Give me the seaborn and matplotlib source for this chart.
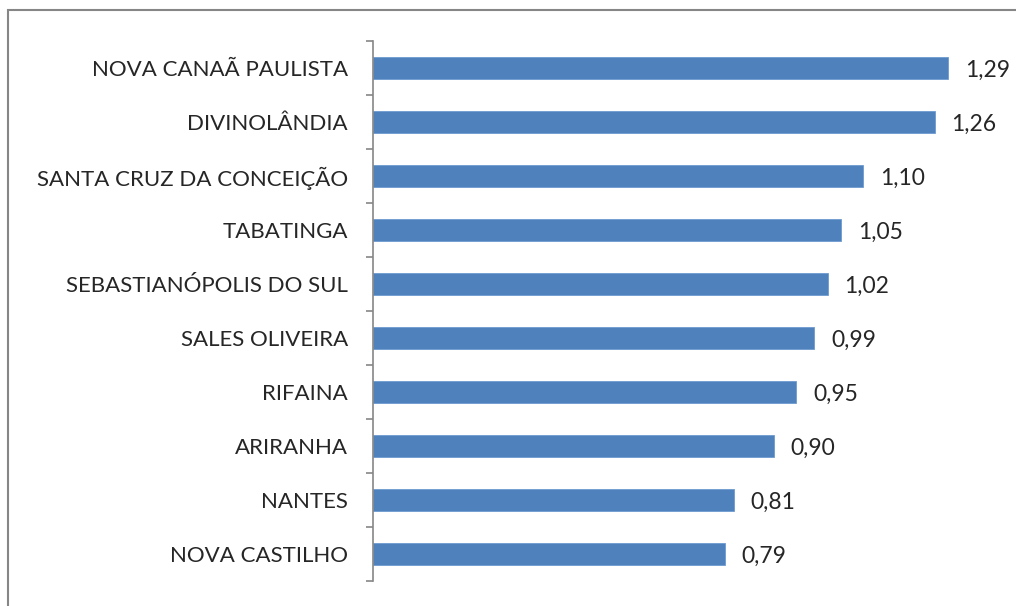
import seaborn as sns
import pandas as pd
import numpy as np
import matplotlib.pyplot as plt
from matplotlib.patches import Rectangle

municipios = ["NOVA CANAÃ PAULISTA", "DIVINOLÂNDIA", "SANTA CRUZ DA CONCEIÇÃO",
              "TABATINGA", "SEBASTIANÓPOLIS DO SUL", "SALES OLIVEIRA", "RIFAINA",
              "ARIRANHA", "NANTES", "NOVA CASTILHO"]
valores = [1.29, 1.26, 1.10, 1.05, 1.02, 0.99, 0.95, 0.90, 0.81, 0.79]

df = pd.DataFrame({"municipio": municipios, "valor": valores})

sns.set_style("white")
plt.rcParams['font.family'] = ['Lato', 'DejaVu Sans']

fig = plt.figure(figsize=(10.16, 6.06), dpi=100)
ax = fig.add_axes([373 / 1016, 1 - 581 / 606, (997 - 373) / 1016, 540 / 606])

sns.barplot(data=df, x="valor", y="municipio", orient="h", color="#4F81BD",
            saturation=1, width=0.41, edgecolor="#6f9bd0", linewidth=0.6, ax=ax)

for i, v in enumerate(valores):
    ax.annotate(f"{v:.2f}".replace(".", ","), xy=(v, i), xytext=(12, -2),
                textcoords="offset points", va="center", ha="left", fontsize=16.5)

ax.set_xlim(0, 1.4)
ax.set_ylim(len(municipios) - 0.5, -0.5)
ax.set_xlabel("")
ax.set_ylabel("")
ax.set_xticks([])
for s in ["top", "right", "bottom"]:
    ax.spines[s].set_visible(False)
ax.spines["left"].set_color("#868686")
ax.spines["left"].set_linewidth(1.2)

ax.set_yticks(np.arange(-0.5, len(municipios), 1), minor=True)
ax.tick_params(axis="y", which="major", length=0, pad=18, labelsize=16)
ax.tick_params(axis="y", which="minor", length=5, width=1.2, color="#868686", left=True)

fig.patches.append(Rectangle((8 / 1016, -0.1), 1.2, 1 - 10 / 606 + 0.1,
                             transform=fig.transFigure, fill=False,
                             edgecolor="#868686", linewidth=1.5))

fig.savefig("out.png", dpi=100)
